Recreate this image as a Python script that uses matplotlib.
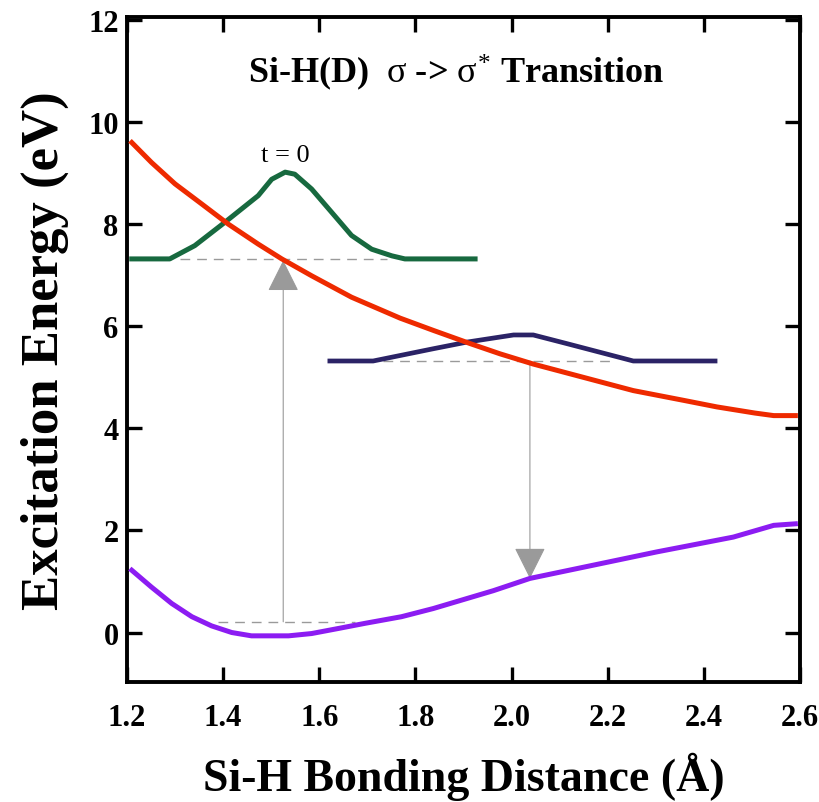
import matplotlib
matplotlib.use("Agg")
import matplotlib.pyplot as plt

plt.rcParams["font.family"] = ["Liberation Serif", "DejaVu Serif"]
plt.rcParams["mathtext.fontset"] = "custom"
plt.rcParams["mathtext.rm"] = "Liberation Serif"
plt.rcParams["mathtext.it"] = "Liberation Serif"
plt.rcParams["mathtext.bf"] = "Liberation Serif:bold"

# sigma* excited state potential
exc_x = [1.210, 1.251, 1.300, 1.355, 1.411, 1.473, 1.522, 1.584, 1.667, 1.768, 1.837,
         1.914, 1.976, 2.045, 2.149, 2.253, 2.357, 2.427, 2.506, 2.545, 2.590]
exc_y = [9.60, 9.21, 8.79, 8.40, 8.00, 7.61, 7.32, 6.99, 6.57, 6.16, 5.92,
         5.66, 5.46, 5.26, 5.00, 4.74, 4.55, 4.42, 4.30, 4.25, 4.25]

# sigma ground state potential
gnd_x = [1.210, 1.251, 1.293, 1.335, 1.376, 1.418, 1.459, 1.536, 1.584, 1.640,
         1.695, 1.771, 1.837, 1.962, 2.038, 2.302, 2.461, 2.545, 2.590]
gnd_y = [1.22, 0.89, 0.57, 0.31, 0.13, 0.00, -0.065, -0.065, -0.02, 0.08,
         0.18, 0.31, 0.47, 0.82, 1.06, 1.58, 1.87, 2.10, 2.13]

# wave packet at t = 0
wp0_x = [1.210, 1.289, 1.341, 1.404, 1.473, 1.501, 1.529, 1.549, 1.584, 1.626,
         1.667, 1.709, 1.751, 1.778, 1.924]
wp0_y = [7.32, 7.32, 7.58, 8.04, 8.56, 8.88, 9.02, 8.98, 8.69, 8.23,
         7.78, 7.51, 7.38, 7.32, 7.32]

# wave packet after propagation
wp1_x = [1.622, 1.712, 1.837, 1.907, 2.004, 2.045, 2.115, 2.253, 2.423]
wp1_y = [5.32, 5.32, 5.56, 5.69, 5.83, 5.83, 5.66, 5.32, 5.32]

# energy levels (y, x_start, x_end)
levels = [(7.32, 1.31, 1.74), (5.32, 1.733, 2.211), (0.21, 1.389, 1.674)]

# vertical transitions (x, y_from, y_to)
transitions = [(1.525, 0.21, 7.29), (2.038, 5.32, 1.06)]

xticks = [1.2, 1.4, 1.6, 1.8, 2.0, 2.2, 2.4, 2.6]
yticks = [0, 2, 4, 6, 8, 10, 12]

fig = plt.figure(figsize=(8.19, 8.03), dpi=100)
ax = fig.add_axes([0.155, 0.1494, 0.822, 0.8282])

for y, x0, x1 in levels:
    ax.plot([x0, x1], [y, y], color="#9a9a9a", lw=1.0, ls=(0, (7, 5)), zorder=1)

for x, y0, y1 in transitions:
    ax.annotate("", xy=(x, y1), xytext=(x, y0),
                arrowprops=dict(arrowstyle="-|>,head_length=1.0,head_width=0.5",
                                mutation_scale=20, color="#9a9a9a", lw=0.8,
                                shrinkA=0, shrinkB=0),
                zorder=2)

ax.plot(wp0_x, wp0_y, color="#17693f", lw=3.6, zorder=3, solid_joinstyle="round")
ax.plot(wp1_x, wp1_y, color="#2b2366", lw=3.4, zorder=3, solid_joinstyle="round")
ax.plot(exc_x, exc_y, color="#ee2a00", lw=3.6, zorder=4, solid_joinstyle="round")
ax.plot(gnd_x, gnd_y, color="#8c1cf2", lw=3.6, zorder=4, solid_joinstyle="round")

ax.text(1.452, 10.78, r"Si-H(D)  $\sigma$ -> $\sigma^{*}$ Transition",
        fontsize=26, fontweight="bold", ha="left", va="baseline")
ax.text(1.529, 9.24, "t = 0", fontsize=19, ha="center", va="baseline")

ax.set_xlim(1.2, 2.6)
ax.set_ylim(-0.97, 12.06)
ax.set_xticks(xticks)
ax.set_xticklabels([f"{v:.1f}" for v in xticks])
ax.set_yticks(yticks)

for s in ax.spines.values():
    s.set_linewidth(2.8)
ax.tick_params(direction="in", length=11, width=2.4, top=True, right=True,
               labelsize=22)
ax.tick_params(axis="x", pad=15)
ax.tick_params(axis="y", pad=6)
for lab in ax.get_xticklabels() + ax.get_yticklabels():
    lab.set_fontweight("bold")

ax.set_xlabel("Si-H Bonding Distance (Å)", fontsize=33, fontweight="bold", labelpad=14)
ax.set_ylabel("Excitation Energy (eV)", fontsize=38, fontweight="bold", labelpad=14)

fig.savefig("out.png", dpi=100)
